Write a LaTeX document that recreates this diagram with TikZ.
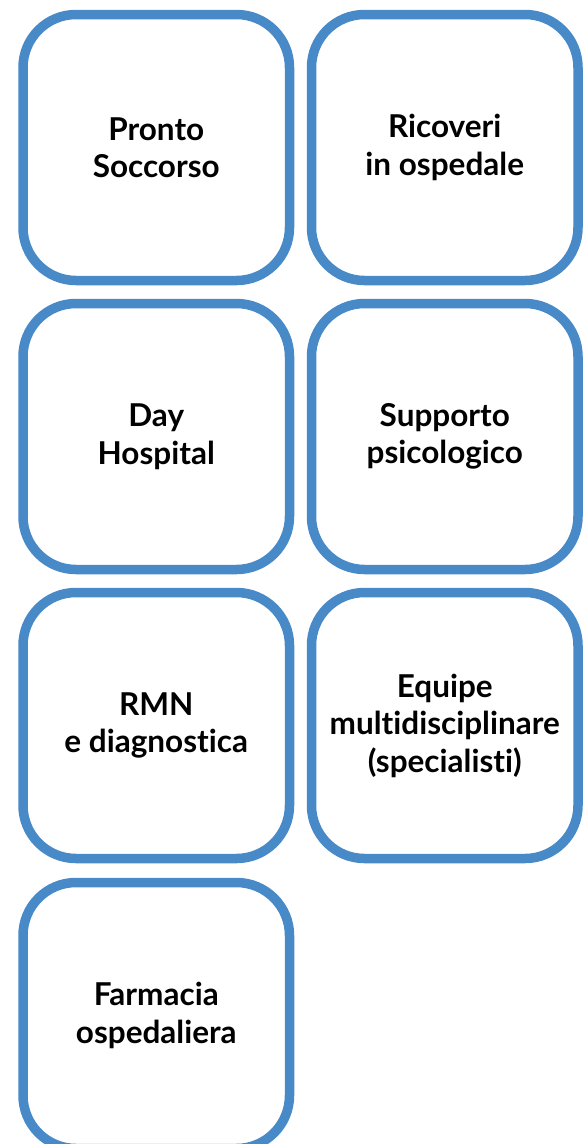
\documentclass[tikz,border=0pt]{standalone}
\usepackage{fontspec}
\setmainfont{Lato}[Ligatures={NoCommon}]
\definecolor{boxblue}{RGB}{72,137,200}
\begin{document}
\begin{tikzpicture}[x=1pt,y=-1pt,
  card/.style={draw=boxblue, line width=9.5pt, rounded corners=53pt,
    minimum width=266.5pt, minimum height=266pt, inner sep=0pt,
    align=center, font=\fontsize{31.5}{37.5}\selectfont\bfseries, text=black}]
\useasboundingbox (0,0) rectangle (585,1144);
\node[card] (ps) at (156.25,147.5) {Pronto\\Soccorso};
\node[card] (ro) at (444.75,147.5) {Ricoveri\\in ospedale};
\node[card] (dh) at (156.25,436.5) {Day\\Hospital};
\node[card] (sp) at (444.75,436.5) {Supporto\\psicologico};
\node[card] (rm) at (156.25,725.5) {RMN\\e diagnostica};
\node[card] (em) at (444.75,725.5) {Equipe\\multidisciplinare\\(specialisti)};
\node[card] (fo) at (156.25,1015.5) {Farmacia\\ospedaliera};
\end{tikzpicture}
\end{document}
